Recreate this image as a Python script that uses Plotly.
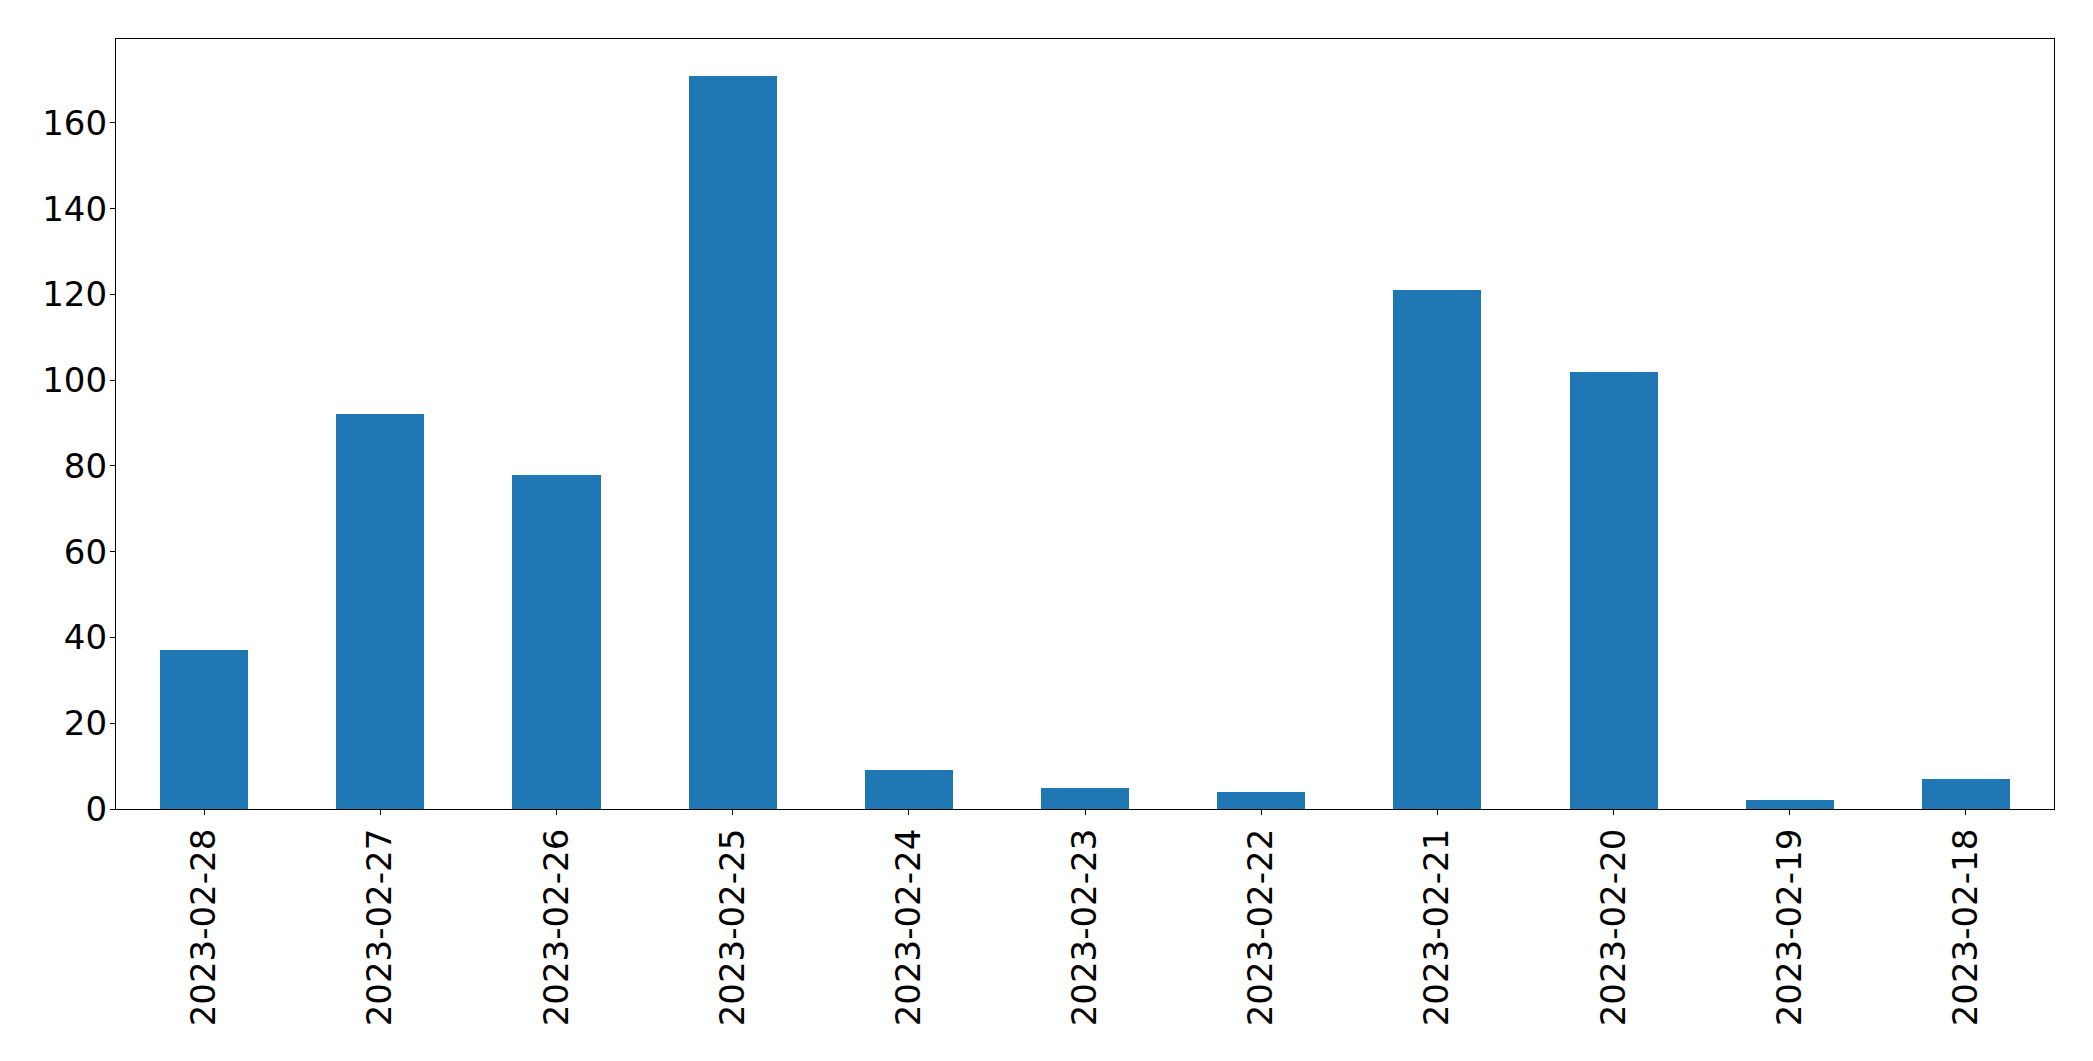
import plotly.graph_objects as go

dates = ["2023-02-28", "2023-02-27", "2023-02-26", "2023-02-25", "2023-02-24",
         "2023-02-23", "2023-02-22", "2023-02-21", "2023-02-20", "2023-02-19", "2023-02-18"]
counts = [37, 92, 78, 171, 9, 5, 4, 121, 102, 2, 7]

fig = go.Figure()
fig.add_trace(go.Bar(x=dates, y=counts, width=0.5, marker=dict(color="#1f77b4", line=dict(width=0))))

font = dict(family="DejaVu Sans", size=34, color="black")
fig.update_layout(
    width=2085, height=1053,
    margin=dict(l=108, r=39, t=31, b=252),
    plot_bgcolor="white", paper_bgcolor="white",
    showlegend=False,
    font=font,
    bargap=0,
)
fig.update_xaxes(
    type="category", range=[-0.5, 10.5], tickangle=-90,
    showline=True, linecolor="black", linewidth=1.3, mirror=True,
    ticks="outside", ticklen=5, tickwidth=1.3, tickcolor="black",
    showgrid=False, zeroline=False, tickfont=font, ticklabelstandoff=0,
)
fig.update_yaxes(
    range=[0, 179.55], tickmode="linear", tick0=0, dtick=20,
    showline=True, linecolor="black", linewidth=1.3, mirror=True,
    ticks="outside", ticklen=5, tickwidth=1.3, tickcolor="black",
    showgrid=False, zeroline=False, tickfont=font, ticklabelstandoff=-4,
)
fig.write_html("out.html")
